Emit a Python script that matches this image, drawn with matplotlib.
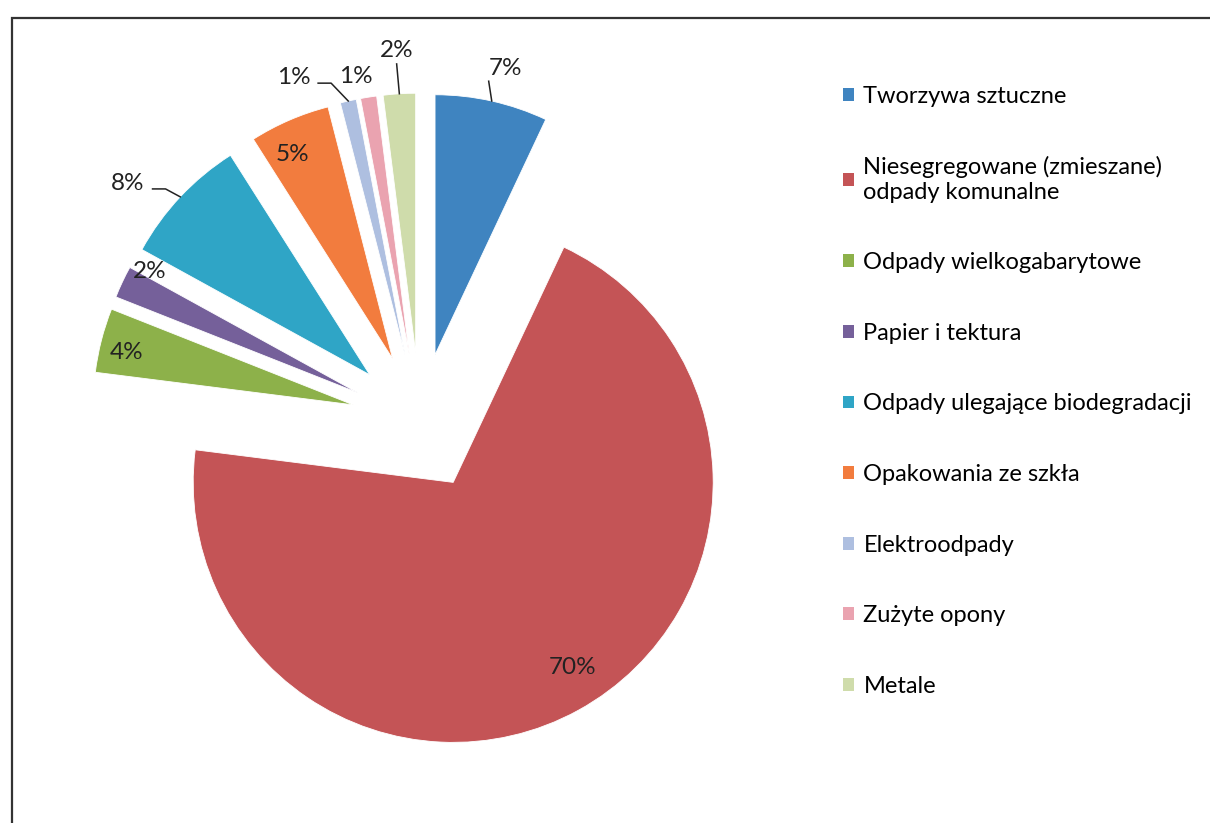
import numpy as np
import matplotlib
matplotlib.use("Agg")
from matplotlib import pyplot as plt
from matplotlib.patches import Rectangle, Patch

plt.rcParams['font.family'] = ['Lato', 'DejaVu Sans']

categories = ["Tworzywa sztuczne",
              "Niesegregowane (zmieszane)\nodpady komunalne",
              "Odpady wielkogabarytowe",
              "Papier i tektura",
              "Odpady ulegające biodegradacji",
              "Opakowania ze szkła",
              "Elektroodpady",
              "Zużyte opony",
              "Metale"]
shares = [7, 70, 4, 2, 8, 5, 1, 1, 2]
colors = ["#3f84c0", "#c45456", "#8db14a", "#75609a", "#2fa5c6",
          "#f27c3e", "#aebfe0", "#eaa3b0", "#cfdcab"]

# where each percentage sits: distance from pie centre (radii) and a small
# clockwise nudge (degrees) off the wedge middle
label_dist = [1.40, 1.11, 1.16, 1.19, 1.45, 1.14, 1.41, 1.35, 1.43]
label_nudge = [1, -3, -1, 4, -4, -2, -7.6, -1.5, 0]
# leader line style: None, 'v' (line up to text) or 'h' (elbow to text side)
leader = ['v', None, None, None, 'h', None, 'h', None, 'v']

W, H = 1210, 823
PX = 260.0   # pixels per pie radius
cx, cy = 420, 422  # pie centre in pixels (from top-left)

fig = plt.figure(figsize=(W / 100, H / 100), dpi=100)
ax = fig.add_axes([0, 0, 1, 1])

wedges, texts, autotexts = ax.pie(shares, colors=colors, startangle=90,
                                  counterclock=False, explode=[0.265] * len(shares),
                                  autopct='%.0f%%', radius=1,
                                  wedgeprops=dict(linewidth=0.6, edgecolor='white'),
                                  textprops=dict(fontsize=17.5, color='#222222'))

ax.set_xlim(-cx / PX, (W - cx) / PX)
ax.set_ylim(-(H - cy) / PX, cy / PX)
ax.axis('off')

for w, t, d, n, kind in zip(wedges, autotexts, label_dist, label_nudge, leader):
    mid = np.deg2rad((w.theta1 + w.theta2) / 2)
    m = mid - np.deg2rad(n)
    tx, ty = d * np.cos(m), d * np.sin(m)
    t.set_position((tx, ty))
    t.set_ha('center')
    t.set_va('center')
    if kind is None:
        continue
    ex = w.center[0] + w.r * np.cos(mid)
    ey = w.center[1] + w.r * np.sin(mid)
    if kind == 'v':
        xs = [ex, tx - 0.065 if tx > 0.1 else tx]
        ys = [ey, ty - 0.05]
    else:
        xs = [ex, tx + 0.145, tx + 0.095]
        ys = [ey, ty - 0.02, ty - 0.02]
    ax.plot(xs, ys, color='#222222', lw=1.1)

handles = [Patch(facecolor=c, edgecolor='none') for c in colors]
fig.legend(handles, categories, loc='upper left', bbox_to_anchor=(0.697, 0.896),
           frameon=False, fontsize=17, labelspacing=2.1, handlelength=0.45,
           handleheight=0.45, handletextpad=0.4, borderpad=0, borderaxespad=0)

# chart border (partly cut off by the scan)
fig.add_artist(Rectangle((12 / W, -0.01), 1.02, 1 - 18 / H + 0.01,
                         transform=fig.transFigure, fill=False,
                         edgecolor='#333333', lw=1.6))

fig.savefig("out.png", dpi=100, facecolor='white')
